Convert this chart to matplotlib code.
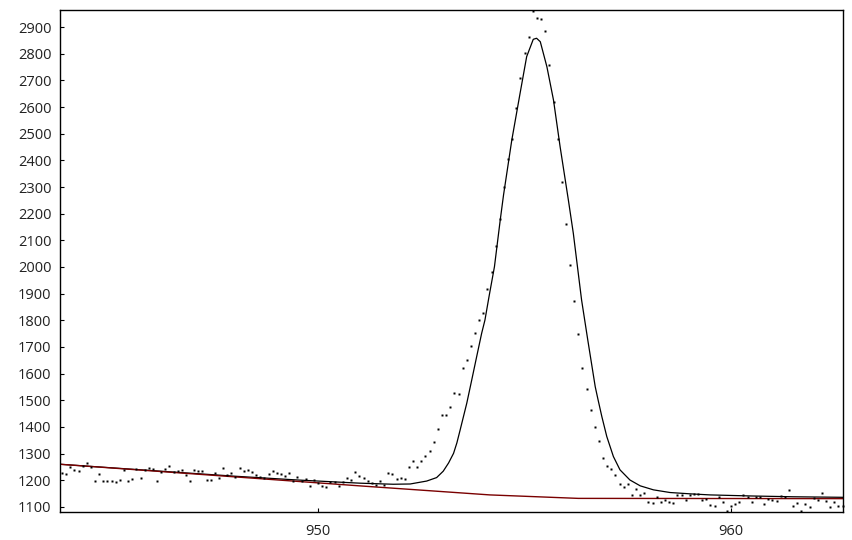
import matplotlib
matplotlib.use("Agg")
import matplotlib.pyplot as plt
import numpy as np

plt.rcParams['font.family'] = ['Open Sans', 'DejaVu Sans']

# measured spectrum, 0.1 eV steps starting at 943.8
e_start = 943.8
e_step = 0.1
counts = [
    1229, 1222, 1249, 1239, 1236, 1255, 1266, 1248, 1199, 1222,
    1199, 1199, 1199, 1195, 1201, 1240, 1199, 1205, 1241, 1210,
    1238, 1247, 1242, 1199, 1230, 1242, 1255, 1230, 1233, 1239,
    1220, 1199, 1239, 1236, 1233, 1201, 1201, 1229, 1210, 1247,
    1220, 1229, 1214, 1246, 1235, 1239, 1232, 1220, 1211, 1207,
    1222, 1235, 1229, 1222, 1217, 1226, 1197, 1214, 1199, 1205,
    1179, 1201, 1191, 1180, 1176, 1192, 1195, 1180, 1195, 1210,
    1201, 1232, 1217, 1210, 1199, 1189, 1183, 1199, 1183, 1229,
    1225, 1205, 1210, 1205, 1248, 1273, 1251, 1273, 1291, 1308,
    1345, 1391, 1443, 1445, 1473, 1529, 1525, 1622, 1651, 1704,
    1754, 1801, 1826, 1917, 1982, 2080, 2180, 2301, 2406, 2481,
    2597, 2710, 2801, 2864, 2962, 2935, 2929, 2886, 2759, 2620,
    2481, 2320, 2161, 2007, 1874, 1749, 1621, 1542, 1464, 1401,
    1347, 1285, 1255, 1243, 1218, 1185, 1173, 1185, 1145, 1166,
    1145, 1154, 1118, 1114, 1139, 1120, 1126, 1120, 1114, 1143,
    1145, 1126, 1143, 1147, 1147, 1126, 1129, 1108, 1105, 1139,
    1120, 1085, 1105, 1111, 1118, 1143, 1136, 1118, 1136, 1136,
    1110, 1129, 1126, 1124, 1141, 1139, 1164, 1105, 1114, 1085,
    1111, 1101, 1133, 1126, 1154, 1124, 1101, 1120, 1105, 1105,
]
energy = np.round(e_start + e_step * np.arange(len(counts)), 2)

# fitted envelope
fit_e = [943.75, 946.0, 948.0, 949.5, 950.5, 951.02, 951.82, 952.23, 952.63,
         952.87, 953.03, 953.16, 953.28, 953.36, 953.44, 953.60, 953.72,
         953.84, 953.96, 954.04, 954.14, 954.27, 954.41, 954.49, 954.69,
         954.89, 955.05, 955.21, 955.29, 955.38, 955.54, 955.70, 955.86,
         956.06, 956.18, 956.38, 956.53, 956.71, 956.78, 956.87, 956.99,
         957.15, 957.31, 957.55, 957.80, 958.12, 958.52, 959.01, 959.49,
         960.5, 961.5, 962.71]
fit_c = [1260, 1236, 1215, 1201, 1193, 1189, 1185, 1186, 1197,
         1210, 1234, 1265, 1301, 1340, 1389, 1489, 1576,
         1664, 1751, 1801, 1890, 2001, 2176, 2270, 2476,
         2651, 2789, 2854, 2858, 2845, 2751, 2626, 2451,
         2251, 2126, 1876, 1726, 1551, 1501, 1439, 1364,
         1289, 1239, 1201, 1179, 1164, 1154, 1149, 1145,
         1141, 1138, 1136]

# background
bg_e = [943.75, 951.0, 954.16, 956.3, 962.71]
bg_c = [1260, 1179, 1145, 1132, 1131]

fig = plt.figure(figsize=(8.53, 5.40), dpi=100)
ax = fig.add_axes([0.0703, 0.0519, 0.918, 0.9296])

ax.plot(fit_e, fit_c, color='black', lw=0.9)
ax.plot(bg_e, bg_c, color='#7a0000', lw=1.0)
ax.plot(energy, counts, 's', color='black', ms=2.0, mec='none', clip_on=False)

ax.set_xlim(943.75, 962.71)
ax.set_ylim(1081, 2964)
ax.set_xticks([950, 960])
ax.set_yticks(np.arange(1100, 2901, 100))
ax.tick_params(direction='in', length=3, width=0.8, labelsize=10.5,
               labelcolor='#222222', pad=6)
ax.tick_params(axis='x', pad=9)
for s in ax.spines.values():
    s.set_linewidth(1.0)
    s.set_color('black')

fig.savefig('out.png', dpi=100)
